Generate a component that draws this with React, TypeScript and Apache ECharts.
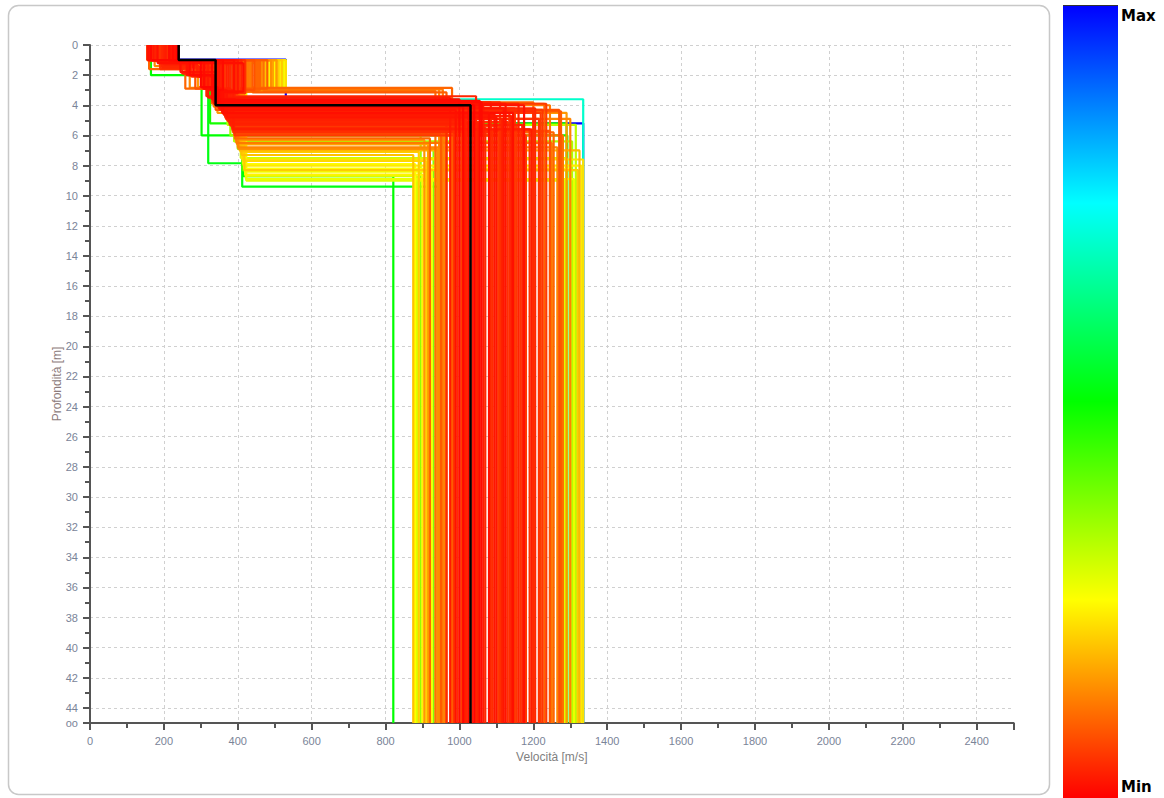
import React, { useEffect, useRef } from "react";
import * as echarts from "echarts";

// Each model: [v1, h1, v2, h2, v3, h3, vHalfspace, misfit]  (velocities m/s, depths m, misfit 0..1)
const RED_MODELS: number[][] = [
  [235, 1.0, 300, 2.8, 345, 4.0, 1040, 0.005],
  [165, 1.0, 330, 3.0, 350, 4.1, 1010, 0.008],
  [225, 1.0, 360, 3.0, 340, 3.8, 1060, 0.01],
  [238, 1.0, 280, 2.0, 330, 3.6, 1000, 0.012],
  [158, 1.0, 390, 3.1, 360, 4.5, 1080, 0.015],
  [215, 1.1, 310, 2.9, 355, 4.3, 990, 0.018],
  [232, 1.0, 345, 3.0, 370, 4.8, 1100, 0.02],
  [172, 1.0, 400, 3.2, 350, 4.2, 1120, 0.022],
  [228, 1.0, 265, 2.0, 320, 3.5, 975, 0.025],
  [205, 1.2, 320, 3.0, 365, 4.7, 1140, 0.027],
  [236, 1.0, 370, 2.9, 380, 5.2, 1050, 0.03],
  [200, 1.3, 290, 2.1, 340, 3.9, 1160, 0.032],
  [180, 1.0, 410, 3.1, 372, 5.0, 1020, 0.034],
  [240, 1.0, 250, 1.9, 315, 3.4, 1045, 0.036],
  [195, 1.5, 340, 3.0, 385, 5.5, 1070, 0.038],
  [162, 1.0, 380, 3.0, 360, 4.4, 1200, 0.04],
  [218, 1.0, 305, 2.9, 345, 4.0, 965, 0.042],
  [212, 1.0, 350, 3.0, 390, 5.8, 1090, 0.044],
  [176, 1.0, 420, 3.2, 375, 5.1, 1130, 0.046],
  [190, 1.6, 275, 2.1, 332, 3.8, 1110, 0.048],
  [234, 1.0, 335, 3.1, 368, 4.9, 1215, 0.05],
  [168, 1.0, 395, 3.0, 355, 4.3, 985, 0.052],
  [224, 1.1, 305, 2.8, 350, 4.2, 1150, 0.054],
  [216, 1.0, 365, 3.0, 392, 6.0, 1180, 0.056],
  [238, 1.0, 285, 2.0, 338, 3.9, 1235, 0.058],
  [185, 1.0, 375, 3.1, 362, 4.6, 1005, 0.06],
  [228, 1.0, 315, 2.9, 378, 5.3, 1170, 0.035],
  [155, 1.0, 355, 3.0, 346, 4.1, 1065, 0.028],
  [232, 1.0, 405, 3.2, 385, 5.6, 1190, 0.05],
  [198, 1.4, 295, 2.1, 340, 3.8, 1085, 0.04],
  [220, 1.0, 262, 2.0, 336, 3.9, 1125, 0.02],
  [170, 1.0, 385, 3.0, 366, 4.8, 995, 0.045],
  [206, 1.0, 325, 2.9, 352, 4.3, 1225, 0.055],
  [226, 1.0, 345, 3.0, 372, 5.0, 1015, 0.03],
  [183, 1.2, 415, 3.1, 358, 4.5, 1145, 0.015],
  [240, 1.0, 270, 2.0, 335, 3.7, 1055, 0.01],
  [210, 1.0, 360, 3.0, 382, 5.4, 1105, 0.06],
  [230, 1.0, 310, 2.9, 348, 4.2, 1205, 0.038],
  [160, 1.0, 390, 3.1, 362, 4.6, 1035, 0.025],
  [204, 1.0, 335, 3.0, 388, 5.7, 1165, 0.048],
  [214, 1.0, 308, 2.9, 342, 4.0, 1025, 0.012],
  [236, 1.0, 350, 3.0, 362, 4.6, 1095, 0.022],
  [178, 1.0, 375, 3.1, 370, 4.9, 1115, 0.032],
  [230, 1.0, 320, 2.9, 352, 4.3, 1135, 0.042],
  [188, 1.0, 400, 3.2, 380, 5.3, 1155, 0.052],
  [226, 1.1, 245, 1.8, 342, 4.0, 1175, 0.018],
  [164, 1.0, 360, 3.0, 388, 5.6, 1195, 0.028],
  [238, 1.0, 340, 3.0, 358, 4.5, 1220, 0.058],
];

const ORANGE_MODELS: number[][] = [
  [210, 1.0, 450, 2.85, 450, 2.85, 980, 0.1],
  [225, 1.0, 430, 2.95, 430, 2.95, 955, 0.12],
  [200, 1.0, 470, 3.05, 470, 3.05, 935, 0.11],
  [235, 1.0, 440, 3.15, 440, 3.15, 965, 0.09],
  [215, 1.0, 490, 2.9, 490, 2.9, 945, 0.14],
  [220, 1.0, 460, 3.0, 392, 6.2, 920, 0.1],
  [205, 1.0, 425, 3.1, 396, 6.5, 1250, 0.12],
  [230, 1.0, 480, 2.9, 392, 5.9, 950, 0.09],
  [190, 1.3, 435, 3.0, 400, 6.8, 1265, 0.13],
  [238, 1.0, 505, 3.1, 394, 6.3, 905, 0.15],
  [212, 1.0, 445, 3.0, 386, 5.7, 1245, 0.08],
  [226, 1.0, 465, 2.95, 402, 6.9, 940, 0.14],
  [200, 1.0, 420, 3.2, 390, 6.0, 1280, 0.11],
  [218, 1.0, 495, 3.0, 398, 6.6, 915, 0.16],
  [234, 1.0, 455, 3.1, 387, 5.8, 1255, 0.1],
  [215, 1.0, 410, 3.1, 350, 3.8, 1200, 0.1],
  [228, 1.0, 435, 3.0, 355, 4.0, 1245, 0.12],
  [208, 1.0, 420, 3.2, 362, 4.4, 1275, 0.09],
  [222, 1.0, 450, 3.0, 368, 4.9, 1300, 0.13],
  [160, 1.6, 258, 2.9, 330, 3.9, 1230, 0.1],
  [175, 1.4, 270, 2.85, 335, 4.1, 960, 0.13],
  [185, 1.2, 285, 2.9, 340, 4.3, 1270, 0.08],
  [155, 1.0, 292, 2.8, 345, 4.5, 1290, 0.15],
];

const YELLOW_MODELS: number[][] = [
  [215, 1.0, 510, 2.9, 408, 7.1, 890, 0.2],
  [225, 1.0, 530, 3.0, 412, 7.6, 1335, 0.22],
  [200, 1.0, 485, 2.8, 415, 7.9, 880, 0.25],
  [232, 1.0, 520, 3.0, 418, 8.3, 1320, 0.2],
  [210, 1.0, 500, 2.95, 420, 8.6, 900, 0.24],
  [222, 1.0, 525, 3.1, 422, 8.9, 1310, 0.27],
  [195, 1.1, 475, 2.9, 410, 7.3, 875, 0.19],
  [238, 1.0, 515, 3.0, 416, 8.0, 1330, 0.23],
  [206, 1.0, 495, 3.05, 419, 8.4, 925, 0.26],
  [228, 1.0, 530, 2.9, 423, 9.0, 1285, 0.28],
  [218, 1.0, 505, 3.0, 405, 7.0, 1325, 0.18],
  [212, 1.0, 490, 2.85, 414, 7.7, 910, 0.21],
  [235, 1.0, 528, 3.1, 417, 8.2, 1300, 0.25],
  [200, 1.0, 470, 3.0, 421, 8.7, 885, 0.29],
  [215, 1.0, 460, 3.0, 372, 5.3, 1315, 0.32],
  [205, 1.0, 480, 3.0, 380, 6.0, 895, 0.35],
  [225, 1.0, 500, 3.1, 390, 6.4, 1305, 0.33],
  [190, 1.2, 450, 2.9, 400, 6.9, 930, 0.37],
  [230, 1.0, 515, 3.0, 408, 7.5, 1290, 0.3],
];

const HIGH_MISFIT_MODELS: number[][] = [
  [165, 2.0, 302, 6.0, 302, 6.0, 1292, 0.5],
  [205, 1.0, 325, 5.2, 325, 5.2, 1290, 0.48],
  [200, 1.0, 320, 7.85, 412, 9.4, 942, 0.52],
  [195, 1.0, 340, 4.0, 415, 8.7, 821, 0.5],
  [200, 1.0, 340, 4.0, 412, 8.3, 1320, 0.42],
  [190, 1.0, 380, 3.6, 1335, 7.6, 1335, 0.7],
  [200, 0.97, 530, 5.2, 530, 5.2, 1335, 1.0],
];

const BEST_MODEL: number[] = [240, 1.0, 340, 4.0, 340, 4.0, 1030];

const MAX_DEPTH = 45;
const MAX_VELOCITY = 2500;
const COLORBAR_STOPS = ["#0000ff", "#00ffff", "#00ff00", "#ffff00", "#ff0000"];

const FONT = '"Liberation Sans", Arial, sans-serif';
const AXIS_COLOR = "#555555";
const LABEL_COLOR = "#7a8498";
const GRID_LINE = { color: "#d0d0d0", type: [3, 3] as any, width: 1 };

function misfitColor(m: number): string {
  const h = Math.max(0, Math.min(240, 240 * m));
  const x = 1 - Math.abs(((h / 60) % 2) - 1);
  let r = 0, g = 0, b = 0;
  if (h < 60) { r = 1; g = x; }
  else if (h < 120) { r = x; g = 1; }
  else if (h < 180) { g = 1; b = x; }
  else if (h < 240) { g = x; b = 1; }
  else { b = 1; }
  return `rgb(${Math.round(r * 255)},${Math.round(g * 255)},${Math.round(b * 255)})`;
}

function profile(m: number[]): number[][] {
  return [
    [m[0], 0], [m[0], m[1]],
    [m[2], m[1]], [m[2], m[3]],
    [m[4], m[3]], [m[4], m[5]],
    [m[6], m[5]], [m[6], MAX_DEPTH],
  ];
}

export default function App() {
  const ref = useRef<HTMLDivElement>(null);

  useEffect(() => {
    if (!ref.current) return;
    const chart = echarts.init(ref.current, undefined, { renderer: "svg" });

    const models = [...HIGH_MISFIT_MODELS, ...YELLOW_MODELS, ...ORANGE_MODELS, ...RED_MODELS]
      .slice()
      .sort((a, b) => b[7] - a[7]);

    const series: any[] = models.map((m) => ({
      type: "line",
      data: profile(m),
      symbol: "none",
      silent: true,
      z: 2,
      lineStyle: { color: misfitColor(m[7]), width: 2.2 },
    }));
    series.push({
      type: "line",
      data: profile(BEST_MODEL),
      symbol: "none",
      silent: true,
      z: 3,
      lineStyle: { color: "#000000", width: 2.5 },
    });

    chart.setOption({
      animation: false,
      grid: { left: 90, top: 45, width: 923.6, height: 678 },
      xAxis: {
        type: "value",
        min: 0,
        max: MAX_VELOCITY,
        interval: 200,
        position: "bottom",
        name: "Velocità [m/s]",
        nameLocation: "middle",
        nameGap: 28,
        nameMoveOverlap: false,
        nameTextStyle: { color: "#808080", fontSize: 12, fontFamily: FONT },
        axisLine: { show: true, onZero: false, lineStyle: { color: AXIS_COLOR, width: 2 } },
        axisTick: { show: true, length: 7, lineStyle: { color: AXIS_COLOR, width: 2 } },
        minorTick: { show: true, splitNumber: 2, length: 5, lineStyle: { color: AXIS_COLOR, width: 2 } },
        axisLabel: {
          color: LABEL_COLOR,
          fontSize: 11,
          fontFamily: FONT,
          margin: 12,
          formatter: (v: number) => (v < MAX_VELOCITY ? String(v) : ""),
        },
        splitLine: { show: true, showMaxLine: false, lineStyle: GRID_LINE },
      },
      yAxis: {
        type: "value",
        min: 0,
        max: MAX_DEPTH,
        interval: 2,
        inverse: true,
        position: "left",
        name: "Profondità [m]",
        nameLocation: "middle",
        nameGap: 27,
        nameMoveOverlap: false,
        nameTextStyle: { color: "#8c7b7b", fontSize: 12, fontFamily: FONT },
        axisLine: { show: true, onZero: false, lineStyle: { color: AXIS_COLOR, width: 2 } },
        axisTick: { show: true, length: 7, lineStyle: { color: AXIS_COLOR, width: 2 } },
        minorTick: { show: true, splitNumber: 2, length: 5, lineStyle: { color: AXIS_COLOR, width: 2 } },
        axisLabel: {
          color: LABEL_COLOR,
          fontSize: 11,
          fontFamily: FONT,
          margin: 12,
          formatter: (v: number) => (v === MAX_DEPTH ? "oo" : String(v)),
        },
        splitLine: { show: true, showMaxLine: false, lineStyle: GRID_LINE },
      },
      series,
      graphic: [
        {
          type: "rect",
          silent: true,
          z: -10,
          shape: { x: 8.5, y: 5.5, width: 1041, height: 789, r: 10 },
          style: { fill: "none", stroke: "#c8c8c8", lineWidth: 1.5 },
        },
        {
          type: "rect",
          silent: true,
          shape: { x: 1063, y: 5, width: 55, height: 793 },
          style: {
            fill: {
              type: "linear",
              x: 0, y: 0, x2: 0, y2: 1,
              colorStops: COLORBAR_STOPS.map((c, i) => ({ offset: i / (COLORBAR_STOPS.length - 1), color: c })),
            },
          },
        },
        {
          type: "line",
          silent: true,
          shape: { x1: 1063, y1: 5.5, x2: 1118, y2: 5.5 },
          style: { stroke: "#333333", lineWidth: 1 },
        },
        {
          type: "text",
          silent: true,
          x: 1121,
          y: 16,
          style: {
            text: "Max",
            fill: "#000000",
            font: 'bold 15px "DejaVu Sans", sans-serif',
            align: "left",
            verticalAlign: "middle",
          },
        },
        {
          type: "text",
          silent: true,
          x: 1121,
          y: 787,
          style: {
            text: "Min",
            fill: "#000000",
            font: 'bold 15px "DejaVu Sans", sans-serif',
            align: "left",
            verticalAlign: "middle",
          },
        },
      ],
    });

    return () => chart.dispose();
  }, []);

  return (
    <div
      ref={ref}
      style={{ position: "fixed", left: 0, top: 0, width: 1164, height: 798, background: "#ffffff" }}
    />
  );
}
